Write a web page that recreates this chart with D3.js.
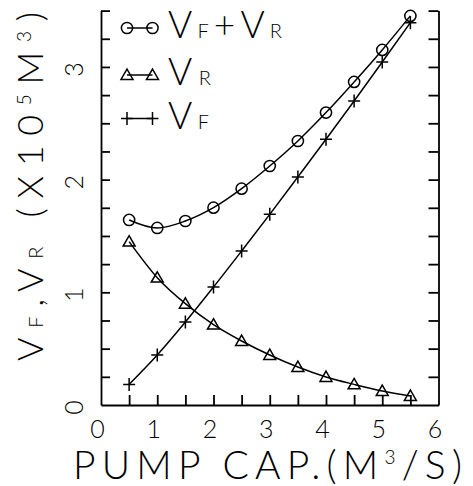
<!DOCTYPE html>
<html>
<head>
<meta charset="utf-8">
<script src="https://cdn.jsdelivr.net/npm/d3@7"></script>
<style>
body { margin: 0; background: #fff; }
svg text { font-family: Lato, 'DejaVu Sans', sans-serif; font-weight: 300; fill: #000; white-space: pre; }
</style>
</head>
<body>
<script>
/* data */
var pumpCap = [0.5, 1.0, 1.5, 2.0, 2.5, 3.0, 3.5, 4.0, 4.5, 5.0, 5.5];
var vSum = [1.642, 1.571, 1.633, 1.751, 1.920, 2.121, 2.343, 2.595, 2.867, 3.151, 3.453];
var vR = [1.450, 1.130, 0.899, 0.713, 0.568, 0.444, 0.337, 0.249, 0.183, 0.124, 0.080];
var vF = [0.183, 0.444, 0.737, 1.047, 1.367, 1.692, 2.024, 2.358, 2.698, 3.044, 3.393];
var xTicks = [0, 1, 2, 3, 4, 5, 6];
var yTicks = [0, 1, 2, 3];

/* setup */
var width = 473;
var height = 486;

var svg = d3.select('body').append('svg')
    .attr('width', width)
    .attr('height', height)

var x = d3.scaleLinear().domain([0, 6]).range([101, 438.5])
var y = d3.scaleLinear().domain([0, 3.5]).range([405, 10.6])

/* frame + inward ticks */
function frame(g) {
    g.selectAll('path, line').attr('stroke', '#000').attr('stroke-width', 1.8)
}

svg.append('g')
    .attr('transform', 'translate(0,' + y(0) + ')')
    .call(d3.axisBottom(x).tickValues(d3.range(0.5, 6, 0.5)).tickSize(-10).tickSizeOuter(0).tickFormat(''))
    .call(frame)

svg.append('g')
    .attr('transform', 'translate(' + x(0) + ',0)')
    .call(d3.axisLeft(y).tickValues(d3.range(0.25, 3.51, 0.25)).tickSize(-9).tickSizeOuter(0).tickFormat(''))
    .call(frame)

svg.append('g')
    .attr('transform', 'translate(' + x(6) + ',0)')
    .call(d3.axisRight(y).tickValues(d3.range(0.25, 3.51, 0.25)).tickSize(-10).tickSizeOuter(0).tickFormat(''))
    .call(frame)

/* tick labels */
var xLab = svg.append('g')
    .attr('transform', 'translate(0,' + y(0) + ')')
    .call(d3.axisBottom(x).tickValues(xTicks).tickFormat(d3.format('d')).tickSize(0).tickPadding(15))
xLab.select('.domain').remove()
xLab.selectAll('text')
    .attr('dx', -4)
    .style('font-size', '25px')

var yLab = svg.append('g')
    .attr('transform', 'translate(' + x(0) + ',0)')
    .call(d3.axisLeft(y).tickValues(yTicks).tickFormat(d3.format('d')).tickSize(0))
yLab.select('.domain').remove()
yLab.selectAll('text')
    .attr('x', 0)
    .attr('dy', 0)
    .attr('text-anchor', 'middle')
    .attr('transform', 'translate(-18,2) rotate(-90)')
    .style('font-size', '25px')
svg.selectAll('.tick text').attr('font-family', null).attr('font-size', null)

/* series */
var series = [
    { name: 'sum', values: vSum, symbol: 'circle', label: [['V', 37], ['F', 20], ['+', 37], ['V', 37], ['R', 20]], labelLength: 114 },
    { name: 'vr', values: vR, symbol: 'triangle', label: [['V', 37], ['R', 20]], labelLength: 43 },
    { name: 'vf', values: vF, symbol: 'plus', label: [['V', 37], ['F', 20]], labelLength: 41 }
]

var line = d3.line()
    .x(function(d) { return x(d[0]) })
    .y(function(d) { return y(d[1]) })
    .curve(d3.curveMonotoneX)

var triangle = d3.symbol(d3.symbolTriangle, 62)

function marker(sel, kind) {
    if (kind === 'circle') {
        sel.append('circle').attr('r', 5.6)
    } else if (kind === 'triangle') {
        sel.append('path').attr('d', triangle).attr('transform', 'translate(0,1)')
    } else {
        sel.append('path').attr('d', 'M-6,0H6M0,-6.5V6.5')
    }
    sel.selectAll('circle, path')
        .attr('fill', 'none')
        .attr('stroke', '#000')
        .attr('stroke-width', 1.5)
}

var g_series = svg.append('g').attr('id', 'series')

series.forEach(function(s) {
    var pts = pumpCap.map(function(p, i) { return [p, s.values[i]] })

    g_series.append('path')
        .datum(pts)
        .attr('d', line)
        .attr('fill', 'none')
        .attr('stroke', '#000')
        .attr('stroke-width', 1.5)

    g_series.append('g').selectAll('g')
        .data(pts)
        .enter().append('g')
        .attr('transform', function(d) { return 'translate(' + x(d[0]) + ',' + y(d[1]) + ')' })
        .each(function() { marker(d3.select(this), s.symbol) })
})

/* legend */
var legendY = [28, 75, 118.5]
var legend = svg.append('g').attr('id', 'legend')

series.forEach(function(s, i) {
    var row = legend.append('g').attr('transform', 'translate(0,' + legendY[i] + ')')
    row.append('line')
        .attr('x1', 127).attr('x2', 152.5)
        .attr('stroke', '#000').attr('stroke-width', 1.5)
    ;[127, 152.5].forEach(function(mx) {
        marker(row.append('g').attr('transform', 'translate(' + mx + ',0)'), s.symbol)
    })
    var t = row.append('text')
        .attr('x', 168)
        .attr('y', 10)
        .attr('textLength', s.labelLength)
    s.label.forEach(function(p) {
        t.append('tspan').style('font-size', p[1] + 'px').text(p[0])
    })
})

/* axis titles */
var yTitle = svg.append('text')
    .attr('transform', 'translate(43,361) rotate(-90)')
    .attr('textLength', 349)
var yParts = [['V', 36, 0], ['F', 20, 0], [',', 36, 0], ['V', 36, 0], ['R', 20, 0], [' (', 36, 0],
    ['X10', 36, 0], ['5', 19, -12], ['M', 36, 12], ['3', 19, -12], [')', 36, 12]]
yParts.forEach(function(p) {
    yTitle.append('tspan').style('font-size', p[1] + 'px').attr('dy', p[2]).text(p[0])
})

var xTitle = svg.append('text')
    .attr('x', 73)
    .attr('y', 479)
    .attr('textLength', 389)
var xParts = [['PUMP CAP.(M', 39, 0], ['3', 19, -15], ['/S)', 39, 15]]
xParts.forEach(function(p) {
    xTitle.append('tspan').style('font-size', p[1] + 'px').attr('dy', p[2]).text(p[0])
})
</script>
</body>
</html>
